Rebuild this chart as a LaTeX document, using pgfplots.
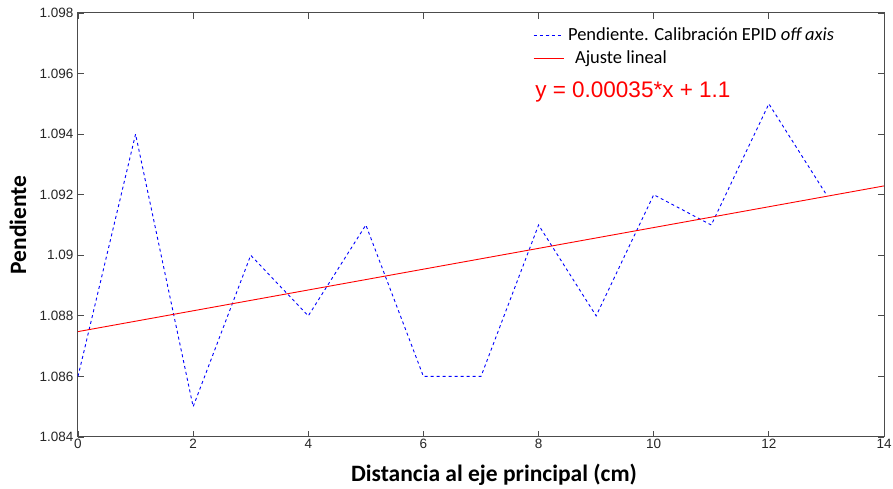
\documentclass[border=0pt]{standalone}
\usepackage{pgfplots}
\pgfplotsset{compat=1.18}
\usepackage{fontspec}
\setmainfont{Liberation Sans}
\newfontfamily\calfont{Carlito}
\begin{document}
\begin{tikzpicture}
\begin{axis}[
  scale only axis, width=806pt, height=424pt,
  xmin=0, xmax=14, ymin=1.084, ymax=1.098,
  xtick={0,2,...,14},
  ytick={1.084,1.086,1.088,1.09,1.092,1.094,1.096,1.098},
  yticklabels={1.084,1.086,1.088,1.09,1.092,1.094,1.096,1.098},
  /pgf/number format/assume math mode=true,
  tick label style={font=\fontsize{13.5}{15}\selectfont, text=black!85},
  xticklabel style={yshift=1pt},
  yticklabel style={xshift=-1pt},
  tick align=inside, tick pos=both,
  major tick length=6pt,
  axis line style={black!70, line width=1pt},
  every tick/.style={black!70, line width=0.8pt},
  xlabel={\calfont\bfseries\fontsize{23.5}{26}\selectfont Distancia al eje principal (cm)},
  ylabel={\calfont\bfseries\fontsize{23.5}{26}\selectfont Pendiente},
  every axis x label/.style={at={(rel axis cs:0.5,0)}, anchor=center, yshift=-38pt, xshift=13pt},
  every axis y label/.style={at={(rel axis cs:0,0.5)}, anchor=center, rotate=90, yshift=60pt},
  legend style={draw=none, fill=none, at={(0.562,0.975)}, anchor=north west,
    font=\calfont\fontsize{18.5}{20}\selectfont, row sep=5pt, inner sep=2pt},
  legend image code/.code={\draw plot coordinates {(0pt,0pt) (15pt,0pt) (30pt,0pt)};},
  legend cell align=left,
]
\addplot[blue, line width=0.9pt, dash pattern=on 3pt off 3pt] coordinates {
(0,1.086)(1,1.094)(2,1.085)(3,1.090)(4,1.088)(5,1.091)(6,1.086)(7,1.086)
(8,1.091)(9,1.088)(10,1.092)(11,1.091)(12,1.095)(13,1.092)};
\addlegendentry{\hspace{2pt}Pendiente. Calibración EPID \textit{off axis}}
\addplot[red, line width=0.9pt] coordinates {(0,1.08748)(14,1.09229)};
\addlegendentry{\hspace{9pt}Ajuste lineal}
\node[anchor=west, text=red, font=\fontsize{22.5}{26}\selectfont, inner sep=0pt] at (axis cs:7.94,1.09538) {y = 0.00035*x + 1.1};
\end{axis}
\pgfresetboundingbox
\path ([xshift=-78pt,yshift=-52pt]current axis.south west) rectangle ([xshift=9pt,yshift=13pt]current axis.north east);
\end{tikzpicture}
\end{document}
